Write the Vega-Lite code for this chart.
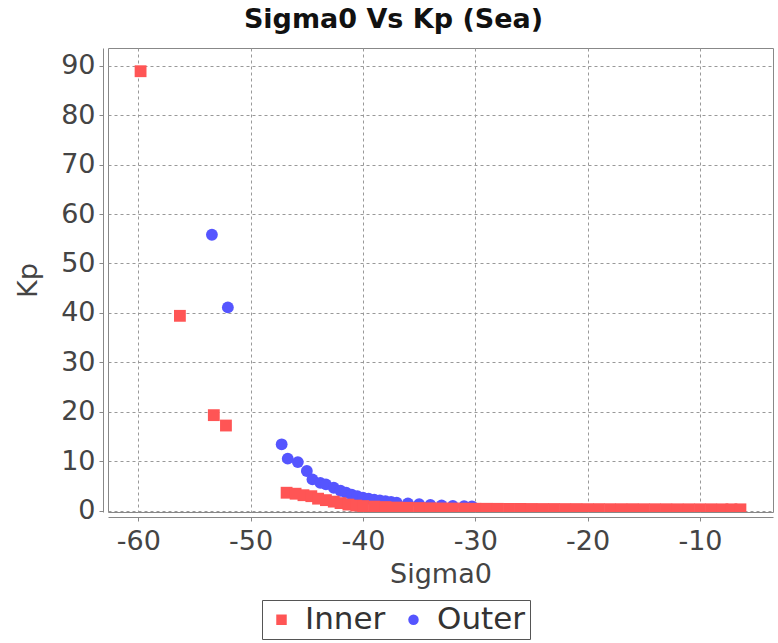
{
  "$schema": "https://vega.github.io/schema/vega-lite/v6.json",
  "width": 665,
  "height": 464,
  "autosize": {"type": "none"},
  "padding": {"left": 108, "top": 48, "right": 5, "bottom": 131},
  "background": "white",
  "title": {
    "text": "Sigma0 Vs Kp (Sea)",
    "font": "DejaVu Sans",
    "fontSize": 27,
    "fontWeight": "bold",
    "color": "#111111",
    "anchor": "middle",
    "dx": -47,
    "offset": 14
  },
  "config": {
    "view": {"stroke": "#888888", "strokeWidth": 1},
    "axis": {
      "labelFont": "DejaVu Sans",
      "titleFont": "DejaVu Sans",
      "labelFontSize": 27,
      "titleFontSize": 27,
      "labelColor": "#444444",
      "titleColor": "#444444",
      "titleFontWeight": "normal",
      "domainColor": "#888888",
      "tickColor": "#888888",
      "tickSize": 4,
      "gridColor": "#999999",
      "gridDash": [3, 3],
      "gridWidth": 1
    },
    "legend": {
      "labelFont": "DejaVu Sans",
      "labelFontSize": 31,
      "labelColor": "#333333"
    }
  },
  "data": {
    "values": [
      {"series": "Outer", "sigma0": -53.45, "kp": 55.8},
      {"series": "Outer", "sigma0": -52.03, "kp": 41.1},
      {"series": "Outer", "sigma0": -47.24, "kp": 13.4},
      {"series": "Outer", "sigma0": -46.7, "kp": 10.5},
      {"series": "Outer", "sigma0": -45.8, "kp": 9.8},
      {"series": "Outer", "sigma0": -45.0, "kp": 8.0},
      {"series": "Outer", "sigma0": -44.5, "kp": 6.3},
      {"series": "Outer", "sigma0": -43.8, "kp": 5.6},
      {"series": "Outer", "sigma0": -43.3, "kp": 5.3},
      {"series": "Outer", "sigma0": -42.6, "kp": 4.6},
      {"series": "Outer", "sigma0": -42.0, "kp": 4.0},
      {"series": "Outer", "sigma0": -41.5, "kp": 3.6},
      {"series": "Outer", "sigma0": -41.0, "kp": 3.2},
      {"series": "Outer", "sigma0": -40.5, "kp": 2.9},
      {"series": "Outer", "sigma0": -40.0, "kp": 2.6},
      {"series": "Outer", "sigma0": -39.5, "kp": 2.4},
      {"series": "Outer", "sigma0": -39.0, "kp": 2.2},
      {"series": "Outer", "sigma0": -38.5, "kp": 2.05},
      {"series": "Outer", "sigma0": -38.0, "kp": 1.9},
      {"series": "Outer", "sigma0": -37.5, "kp": 1.75},
      {"series": "Outer", "sigma0": -37.0, "kp": 1.6},
      {"series": "Outer", "sigma0": -36.0, "kp": 1.45},
      {"series": "Outer", "sigma0": -35.0, "kp": 1.3},
      {"series": "Outer", "sigma0": -34.0, "kp": 1.15},
      {"series": "Outer", "sigma0": -33.0, "kp": 1.05},
      {"series": "Outer", "sigma0": -32.0, "kp": 0.95},
      {"series": "Outer", "sigma0": -31.0, "kp": 0.9},
      {"series": "Outer", "sigma0": -30.3, "kp": 0.85},
      {"series": "Inner", "sigma0": -59.8, "kp": 88.9},
      {"series": "Inner", "sigma0": -56.3, "kp": 39.4},
      {"series": "Inner", "sigma0": -53.28, "kp": 19.3},
      {"series": "Inner", "sigma0": -52.2, "kp": 17.2},
      {"series": "Inner", "sigma0": -46.8, "kp": 3.6},
      {"series": "Inner", "sigma0": -46.0, "kp": 3.4},
      {"series": "Inner", "sigma0": -45.3, "kp": 3.1},
      {"series": "Inner", "sigma0": -44.6, "kp": 2.9},
      {"series": "Inner", "sigma0": -44.0, "kp": 2.4},
      {"series": "Inner", "sigma0": -43.3, "kp": 2.1},
      {"series": "Inner", "sigma0": -42.6, "kp": 1.8},
      {"series": "Inner", "sigma0": -42.0, "kp": 1.5},
      {"series": "Inner", "sigma0": -41.3, "kp": 1.2},
      {"series": "Inner", "sigma0": -40.6, "kp": 1.0},
      {"series": "Inner", "sigma0": -40.0, "kp": 0.9},
      {"series": "Inner", "sigma0": -39.0, "kp": 0.8},
      {"series": "Inner", "sigma0": -38.0, "kp": 0.7},
      {"series": "Inner", "sigma0": -37.0, "kp": 0.6},
      {"series": "Inner", "sigma0": -36.0, "kp": 0.55},
      {"series": "Inner", "sigma0": -35.0, "kp": 0.5},
      {"series": "Inner", "sigma0": -34.0, "kp": 0.45},
      {"series": "Inner", "sigma0": -33.0, "kp": 0.42},
      {"series": "Inner", "sigma0": -32.0, "kp": 0.4},
      {"series": "Inner", "sigma0": -31.0, "kp": 0.38},
      {"series": "Inner", "sigma0": -30.0, "kp": 0.36},
      {"series": "Inner", "sigma0": -29.0, "kp": 0.35},
      {"series": "Inner", "sigma0": -28.0, "kp": 0.34},
      {"series": "Inner", "sigma0": -27.0, "kp": 0.33},
      {"series": "Inner", "sigma0": -26.0, "kp": 0.32},
      {"series": "Inner", "sigma0": -25.0, "kp": 0.31},
      {"series": "Inner", "sigma0": -24.0, "kp": 0.3},
      {"series": "Inner", "sigma0": -23.0, "kp": 0.3},
      {"series": "Inner", "sigma0": -22.0, "kp": 0.29},
      {"series": "Inner", "sigma0": -21.0, "kp": 0.29},
      {"series": "Inner", "sigma0": -20.0, "kp": 0.28},
      {"series": "Inner", "sigma0": -19.0, "kp": 0.28},
      {"series": "Inner", "sigma0": -18.0, "kp": 0.27},
      {"series": "Inner", "sigma0": -17.0, "kp": 0.27},
      {"series": "Inner", "sigma0": -16.0, "kp": 0.27},
      {"series": "Inner", "sigma0": -15.0, "kp": 0.26},
      {"series": "Inner", "sigma0": -14.0, "kp": 0.26},
      {"series": "Inner", "sigma0": -13.0, "kp": 0.26},
      {"series": "Inner", "sigma0": -12.0, "kp": 0.25},
      {"series": "Inner", "sigma0": -11.0, "kp": 0.25},
      {"series": "Inner", "sigma0": -10.0, "kp": 0.25},
      {"series": "Inner", "sigma0": -9.0, "kp": 0.25},
      {"series": "Inner", "sigma0": -8.0, "kp": 0.24},
      {"series": "Inner", "sigma0": -7.2, "kp": 0.24},
      {"series": "Inner", "sigma0": -6.4, "kp": 0.24}
    ]
  },
  "mark": {"type": "point", "filled": true, "opacity": 1, "clip": true, "size": 140},
  "encoding": {
    "x": {
      "field": "sigma0",
      "type": "quantitative",
      "title": "Sigma0",
      "scale": {"domain": [-62.7, -3.5], "nice": false, "zero": false},
      "axis": {
        "values": [-60, -50, -40, -30, -20, -10],
        "labelExpr": "'-' + format(-datum.value, 'd')",
        "offset": 5,
        "labelPadding": 7,
        "titlePadding": 7
      }
    },
    "y": {
      "field": "kp",
      "type": "quantitative",
      "title": "Kp",
      "scale": {"domain": [-0.3, 93.6], "nice": false, "zero": false},
      "axis": {"values": [0, 10, 20, 30, 40, 50, 60, 70, 80, 90], "offset": 5, "labelPadding": 4, "titlePadding": 18}
    },
    "color": {
      "field": "series",
      "type": "nominal",
      "scale": {"domain": ["Inner", "Outer"], "range": ["#FF5555", "#5555FF"]},
      "legend": {
        "title": null,
        "orient": "none",
        "legendX": 154,
        "legendY": 552,
        "direction": "horizontal",
        "strokeColor": "#555555",
        "padding": 4,
        "symbolSize": 110,
        "columnPadding": 12,
        "labelOffset": 8
      }
    },
    "shape": {
      "field": "series",
      "type": "nominal",
      "scale": {"domain": ["Inner", "Outer"], "range": ["square", "circle"]},
      "legend": null
    }
  }
}
